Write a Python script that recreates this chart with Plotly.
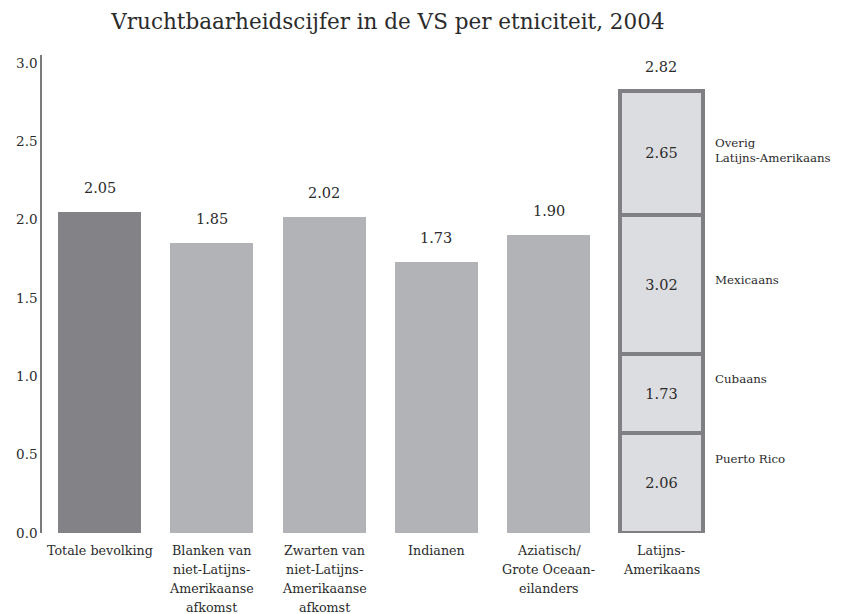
import plotly.graph_objects as go

# ---- data ----
categories = ["Totale bevolking", "Blanken van<br>niet-Latijns-<br>Amerikaanse<br>afkomst",
              "Zwarten van<br>niet-Latijns-<br>Amerikaanse<br>afkomst", "Indianen",
              "Aziatisch/<br>Grote Oceaan-<br>eilanders", "Latijns-<br>Amerikaans"]
main_values = [2.05, 1.85, 2.02, 1.73, 1.90]
latino_total = 2.82
sub_names = ["Puerto Rico", "Cubaans", "Mexicaans", "Overig<br>Latijns-Amerikaans"]
sub_heights = [0.64, 0.50, 0.89, 0.79]      # segment heights (share of 2.82)
sub_rates = [2.06, 1.73, 3.02, 2.65]        # fertility rate per subgroup
y_ticks = [0.0, 0.5, 1.0, 1.5, 2.0, 2.5, 3.0]

FONT = "DejaVu Serif"
TXT = "#2b2b2b"
xs = list(range(len(categories)))
bw = 0.74

fig = go.Figure()
fig.add_trace(go.Bar(
    x=xs[:5], y=main_values, width=bw,
    marker=dict(color=["#838387"] + ["#b2b3b7"] * 4, line=dict(width=0)),
    hoverinfo="skip", showlegend=False))

for h, r in zip(sub_heights, sub_rates):
    fig.add_trace(go.Bar(
        x=[xs[5]], y=[h], width=bw,
        marker=dict(color="#dcdde0", line=dict(color="#808084", width=4)),
        text=[f"{r:.2f}"], textposition="inside", insidetextanchor="middle",
        textfont=dict(family=FONT, size=14.5, color=TXT), textangle=0,
        hoverinfo="skip", showlegend=False))

# value labels above bars
for x, v in zip(xs[:5] + [xs[5]], main_values + [latino_total]):
    fig.add_annotation(x=x, y=v, text=f"{v:.2f}", showarrow=False, xref="x", yref="y",
                       yanchor="middle", yshift=24,
                       font=dict(family=FONT, size=14.5, color=TXT))

# category labels (one annotation per line for wider line spacing)
for x, cat in zip(xs, categories):
    for i, line in enumerate(cat.split("<br>")):
        fig.add_annotation(x=x, y=0, text=line, showarrow=False, xref="x", yref="y",
                           yanchor="middle", yshift=-(17 + 19 * i),
                           font=dict(family=FONT, size=12.7, color=TXT))

# subgroup labels to the right
shifts = [24, 15, 5, 3]
base = 0.0
for name, h, s in zip(sub_names, sub_heights, shifts):
    fig.add_annotation(x=5.46, y=base + h / 2, text=name, showarrow=False, xref="x", yref="y",
                       xanchor="left", yanchor="middle", yshift=s, align="left",
                       font=dict(family=FONT, size=11.8, color=TXT))
    base += h

fig.update_layout(
    width=835, height=606,
    barmode="stack", bargap=0,
    paper_bgcolor="white", plot_bgcolor="white",
    margin=dict(l=34, r=0, t=47, b=81),
    title=dict(text="Vruchtbaarheidscijfer in de VS per etniciteit, 2004",
               x=0.455, xref="container", xanchor="center",
               y=0.977, yref="container", yanchor="middle",
               font=dict(family=FONT, size=21.5, color=TXT)),
    font=dict(family=FONT, color=TXT),
    xaxis=dict(range=[-0.512, 6.62], tickvals=xs, showticklabels=False, showgrid=False,
               zeroline=False, showline=False, ticks=""),
    yaxis=dict(range=[0, 3.052], tickvals=y_ticks, ticktext=[f"{t:.1f}" for t in y_ticks],
               showgrid=False, zeroline=False, showline=True, linecolor="#7a7a7a", linewidth=1.5,
               ticks="", tickfont=dict(family=FONT, size=13.5, color=TXT)),
)

fig.write_html("out.html")
